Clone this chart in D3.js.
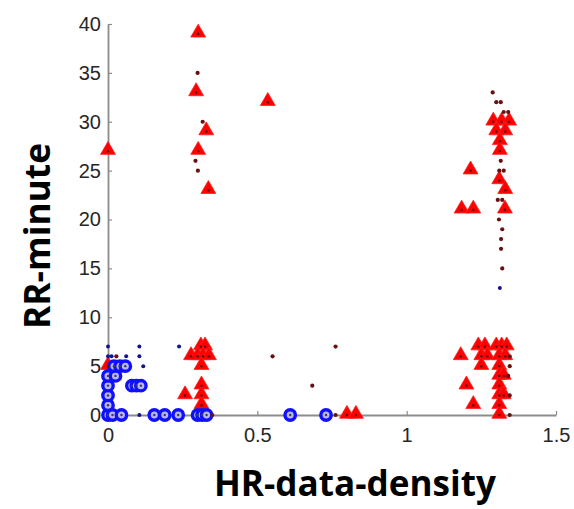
<!DOCTYPE html>
<html>
<head>
<meta charset="utf-8">
<script src="https://cdn.jsdelivr.net/npm/d3@7/dist/d3.min.js"></script>
<style>
  html, body { margin: 0; padding: 0; background: #fff; }
  svg { display: block; }
</style>
</head>
<body>
<svg id="chart" width="574" height="509"></svg>
<script>
// ---- data ----
const xTicks = [0, 0.5, 1, 1.5];
const xTickLabels = ["0", "0.5", "1", "1.5"];
const yTicks = [0, 5, 10, 15, 20, 25, 30, 35, 40];
const yTickLabels = ["0", "5", "10", "15", "20", "25", "30", "35", "40"];

// red triangles [HR-data-density, RR-minute]
const redTriangles = [
  [0, 27], [0, 5],
  [0.302, 39], [0.295, 33], [0.535, 32], [0.329, 29], [0.302, 27], [0.336, 23],
  [0.311, 7], [0.325, 7], [0.278, 6], [0.300, 6], [0.318, 6], [0.338, 6],
  [0.313, 5], [0.313, 3], [0.313, 2], [0.313, 1], [0.258, 2],
  [0.80, 0], [0.83, 0],
  [1.290, 30], [1.318, 30], [1.343, 30], [1.300, 29], [1.330, 29],
  [1.312, 28], [1.312, 27], [1.310, 24], [1.330, 23], [1.214, 25],
  [1.184, 21], [1.223, 21], [1.329, 21],
  [1.240, 7], [1.262, 7], [1.300, 7], [1.318, 7], [1.335, 7],
  [1.181, 6], [1.250, 6], [1.270, 6], [1.310, 6], [1.330, 6],
  [1.250, 5], [1.310, 5], [1.310, 4], [1.325, 4],
  [1.200, 3], [1.310, 3], [1.310, 2], [1.325, 2],
  [1.223, 1], [1.310, 1], [1.310, 0]
];

// blue open circles
const blueCircles = [
  [0, 0], [0, 1], [0, 2], [0, 3], [0, 4], [0.025, 4],
  [0.02, 5], [0.04, 5], [0.058, 5],
  [0.015, 0], [0.045, 0], [0.155, 0], [0.19, 0], [0.235, 0],
  [0.30, 0], [0.315, 0], [0.33, 0], [0.61, 0], [0.73, 0],
  [0.08, 3], [0.095, 3], [0.11, 3]
];

// small dark-blue dots
const blueDots = [
  [0, 7], [0.105, 7], [0.238, 7],
  [0, 6], [0.012, 6], [0.061, 6], [0.105, 6],
  [0.118, 5], [0.105, 0], [1.312, 13]
];

// small dark-red dots
const darkDots = [
  [0.30, 35], [0.317, 30], [0.293, 26], [0.301, 25],
  [0.028, 6], [0.349, 0], [0.551, 6], [0.762, 7], [0.684, 3], [0.762, 0],
  [1.288, 33], [1.300, 32], [1.315, 32], [1.325, 31], [1.340, 31],
  [1.315, 26], [1.310, 25], [1.325, 25], [1.305, 22], [1.320, 22],
  [1.309, 20], [1.320, 19], [1.316, 18], [1.316, 17], [1.320, 15],
  [1.345, 6], [1.345, 5], [1.340, 4], [1.345, 2], [1.345, 0]
];

// ---- chart ----
const svg = d3.select("#chart");
const x = d3.scaleLinear().domain([0, 1.5]).range([108, 556]);
const y = d3.scaleLinear().domain([0, 40]).range([415, 24]);

const axisColor = "#8c8c8c";
const textColor = "#262626";

const gx = svg.append("g").attr("transform", `translate(0,${y(0)})`)
  .call(d3.axisBottom(x).tickValues(xTicks)
    .tickFormat((d, i) => xTickLabels[i])
    .tickSizeInner(-4).tickSizeOuter(0).tickPadding(13));
const gy = svg.append("g").attr("transform", `translate(${x(0)},0)`)
  .call(d3.axisLeft(y).tickValues(yTicks)
    .tickFormat((d, i) => yTickLabels[i])
    .tickSizeInner(-4).tickSizeOuter(0).tickPadding(7));

[gx, gy].forEach(g => {
  g.select(".domain").attr("stroke", axisColor).attr("stroke-width", 1.8);
  g.selectAll(".tick line").attr("stroke", axisColor).attr("stroke-width", 1.2);
  g.selectAll(".tick text")
    .attr("fill", textColor)
    .style("font-family", "'Liberation Sans', Arial, sans-serif")
    .style("font-size", "20px");
});

// markers
const tri = d3.symbol().type(d3.symbolTriangle).size(96);

svg.append("g").selectAll("path").data(redTriangles).join("path")
  .attr("d", tri)
  .attr("transform", d => `translate(${x(d[0])},${y(d[1]) - 1})`)
  .attr("fill", "#ff0000")
  .attr("stroke", "#ff2020").attr("stroke-width", 0.8).attr("stroke-linejoin", "round");

svg.append("g").selectAll("circle").data(blueCircles).join("circle")
  .attr("cx", d => x(d[0])).attr("cy", d => y(d[1]))
  .attr("r", 5.2)
  .attr("fill", "#b8b8f0")
  .attr("stroke", "#1010ff").attr("stroke-width", 3.4);

// centre points inside markers
svg.append("g").selectAll("circle").data(redTriangles).join("circle")
  .attr("cx", d => x(d[0])).attr("cy", d => y(d[1]))
  .attr("r", 1.2).attr("fill", "#5a0000");
svg.append("g").selectAll("circle").data(blueCircles).join("circle")
  .attr("cx", d => x(d[0])).attr("cy", d => y(d[1]))
  .attr("r", 1.2).attr("fill", "#3a3a5a");

svg.append("g").selectAll("circle").data(darkDots).join("circle")
  .attr("cx", d => x(d[0])).attr("cy", d => y(d[1]))
  .attr("r", 2.1).attr("fill", "#6a1010");

svg.append("g").selectAll("circle").data(blueDots).join("circle")
  .attr("cx", d => x(d[0])).attr("cy", d => y(d[1]))
  .attr("r", 2).attr("fill", "#14148a");

// axis titles
svg.append("text")
  .attr("x", 355).attr("y", 496)
  .attr("text-anchor", "middle")
  .attr("textLength", 282).attr("lengthAdjust", "spacingAndGlyphs")
  .style("font-family", "'Open Sans', 'Liberation Sans', sans-serif")
  .style("font-weight", "700").style("font-size", "35px")
  .attr("fill", "#000")
  .text("HR-data-density");

svg.append("text")
  .attr("transform", "translate(50,236) rotate(-90)")
  .attr("text-anchor", "middle")
  .attr("textLength", 186).attr("lengthAdjust", "spacingAndGlyphs")
  .style("font-family", "'Open Sans', 'Liberation Sans', sans-serif")
  .style("font-weight", "700").style("font-size", "36px")
  .attr("fill", "#000")
  .text("RR-minute");
</script>
</body>
</html>
